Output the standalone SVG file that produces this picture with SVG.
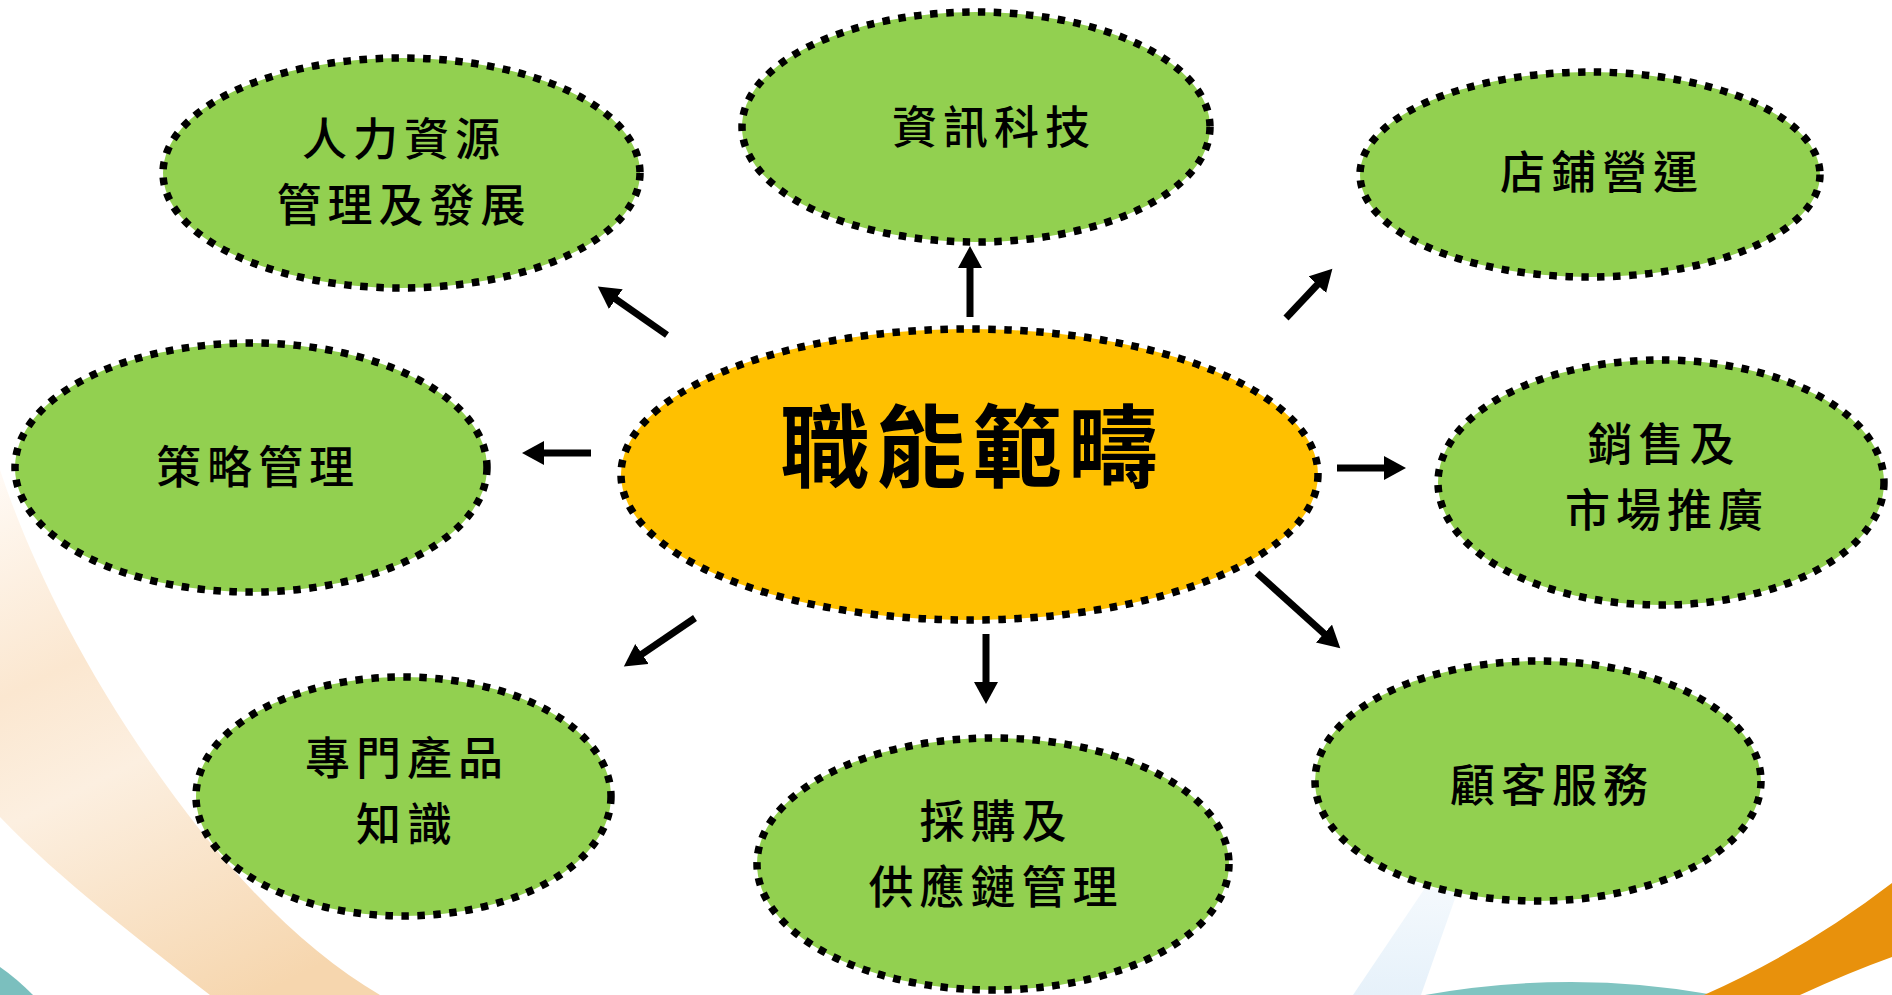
<svg xmlns="http://www.w3.org/2000/svg" width="1892" height="995" viewBox="0 0 1892 995">
  <style>
    .green { fill: #92d050; stroke: #000; stroke-width: 7.5; stroke-dasharray: 7.5 8.5; }
    .core { fill: #ffc000; stroke: #000; stroke-width: 7.5; stroke-dasharray: 7.5 8.5; }
    .lbl { font-family: "Noto Sans CJK TC", "Noto Sans CJK SC", sans-serif; font-size: 45px; font-weight: 500; letter-spacing: 6px; fill: #000; text-anchor: middle; }
    .title { font-family: "Noto Sans CJK TC", "Noto Sans CJK SC", sans-serif; font-size: 90px; font-weight: 700; letter-spacing: 6px; fill: #000; text-anchor: middle; }
    .arrow { stroke: #000; stroke-width: 7; fill: none; marker-end: url(#head); }
  </style>
  <defs>
    <marker id="head" markerUnits="userSpaceOnUse" markerWidth="24" markerHeight="26" refX="1" refY="12" orient="auto">
      <path d="M0,0 L22,12 L0,24 Z" fill="#000"/>
    </marker>
    <linearGradient id="peach" gradientUnits="userSpaceOnUse" x1="0" y1="470" x2="260" y2="995">
      <stop offset="0" stop-color="#fffaf5"/>
      <stop offset="0.35" stop-color="#fbe7d0"/>
      <stop offset="0.55" stop-color="#fcefe0"/>
      <stop offset="1" stop-color="#f6d6ae"/>
    </linearGradient>
    <linearGradient id="pale" gradientUnits="userSpaceOnUse" x1="0" y1="888" x2="0" y2="995">
      <stop offset="0" stop-color="#f4f9fd"/>
      <stop offset="1" stop-color="#e6f1fa"/>
    </linearGradient>
  </defs>

  <rect width="1892" height="995" fill="#fff"/>

  <g id="background">
    <path d="M0,470 C30,560 90,690 200,830 C260,905 320,960 380,995 L210,995 C140,940 60,880 0,817 Z" fill="url(#peach)"/>
    <path d="M0,967 Q16,978 33,995 L0,995 Z" fill="#7bbfbe"/>
    <path d="M1425,888 L1458,890 L1421,995 L1353,995 Z" fill="url(#pale)"/>
    <path d="M1425,995 Q1572,969 1715,995 Z" fill="#80c4c1"/>
    <path d="M1892,883 Q1805,950 1704,995 L1800,995 Q1850,972 1892,957 Z" fill="#e8910c"/>
  </g>

  <g id="connectors">
    <line class="arrow" x1="667" y1="335" x2="615" y2="298.6"/>
    <line class="arrow" x1="970" y1="317" x2="970" y2="267"/>
    <line class="arrow" x1="1286" y1="318" x2="1318" y2="284"/>
    <line class="arrow" x1="591" y1="453" x2="543" y2="453"/>
    <line class="arrow" x1="1337" y1="468" x2="1385" y2="468"/>
    <line class="arrow" x1="695" y1="618" x2="641.2" y2="654.6"/>
    <line class="arrow" x1="986" y1="634" x2="986" y2="683"/>
    <line class="arrow" x1="1257" y1="573" x2="1324.7" y2="634.2"/>
  </g>

  <g id="node-core">
    <ellipse class="core" cx="969.5" cy="474.5" rx="348.5" ry="145.5"/>
    <text class="title" x="972" y="480">職能範疇</text>
  </g>

  <g id="node-hr">
    <ellipse class="green" cx="401.5" cy="173" rx="238.5" ry="115"/>
    <text class="lbl"><tspan x="404" y="155.5">人力資源</tspan><tspan x="404" y="221.5">管理及發展</tspan></text>
  </g>

  <g id="node-it">
    <ellipse class="green" cx="976" cy="127" rx="234" ry="115"/>
    <text class="lbl" x="994" y="144">資訊科技</text>
  </g>

  <g id="node-store">
    <ellipse class="green" cx="1590" cy="174.5" rx="230" ry="102.5"/>
    <text class="lbl" x="1602" y="189">店鋪營運</text>
  </g>

  <g id="node-strategy">
    <ellipse class="green" cx="251" cy="467.5" rx="236" ry="124.5"/>
    <text class="lbl" x="258" y="484">策略管理</text>
  </g>

  <g id="node-sales">
    <ellipse class="green" cx="1661" cy="482.5" rx="223" ry="122.5"/>
    <text class="lbl"><tspan x="1664" y="460.5">銷售及</tspan><tspan x="1667" y="526.5">市場推廣</tspan></text>
  </g>

  <g id="node-product">
    <ellipse class="green" cx="403.5" cy="796.5" rx="207.5" ry="119.5"/>
    <text class="lbl"><tspan x="407" y="774.5">專門產品</tspan><tspan x="407" y="840.5">知識</tspan></text>
  </g>

  <g id="node-procurement">
    <ellipse class="green" cx="993" cy="864" rx="236" ry="126"/>
    <text class="lbl"><tspan x="996" y="838">採購及</tspan><tspan x="996" y="904">供應鏈管理</tspan></text>
  </g>

  <g id="node-service">
    <ellipse class="green" cx="1538" cy="781" rx="223" ry="120"/>
    <text class="lbl" x="1552" y="802">顧客服務</text>
  </g>
</svg>
